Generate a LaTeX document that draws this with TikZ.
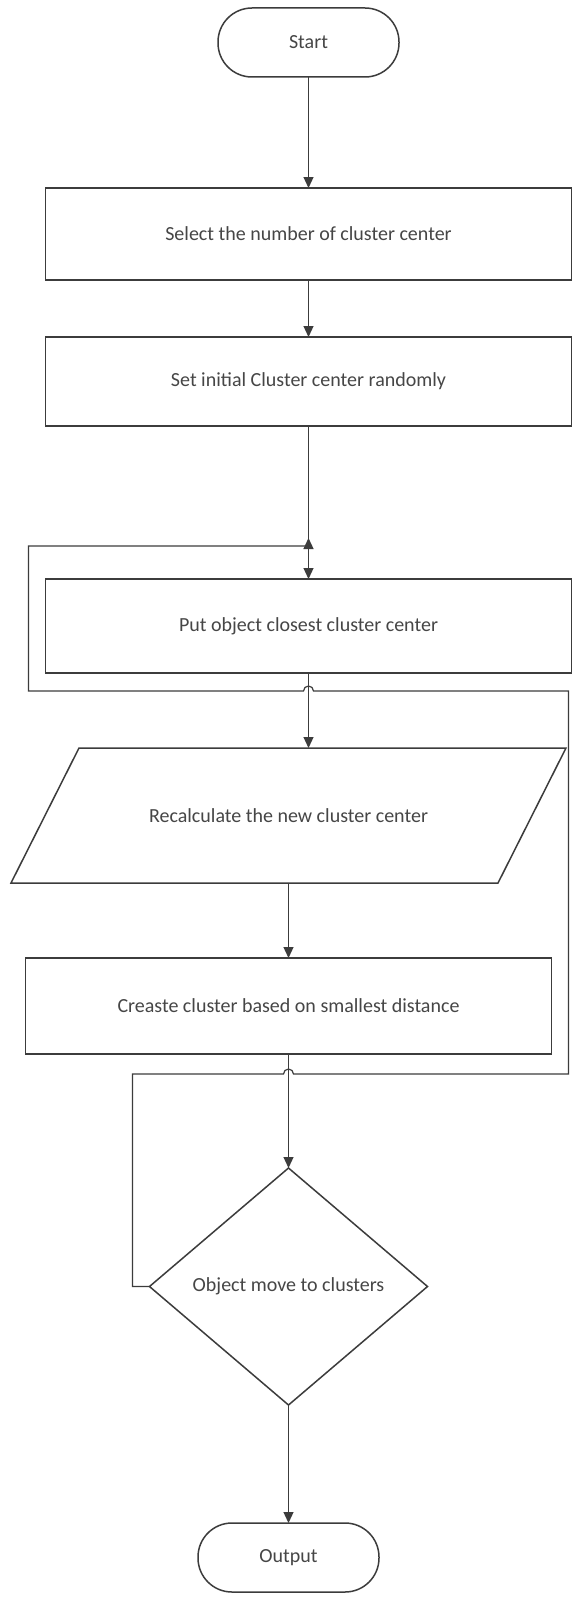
\documentclass[tikz,border=0pt]{standalone}
\usepackage{fontspec}
\setmainfont{Carlito}
\usepackage{tikz}
\usetikzlibrary{positioning, shapes.geometric, arrows.meta, calc}
\definecolor{line}{RGB}{60, 60, 60}
\definecolor{label}{RGB}{70, 70, 70}

\begin{document}
\begin{tikzpicture}[
        x=1pt, y=1pt,
        >={Triangle[length=11pt, width=10pt]},
        box/.style={draw=line, fill=white, line width=1.5pt, outer sep=0pt, text=label, font=\fontsize{20}{24}\selectfont},
        terminal/.style={box, rectangle, minimum width=181pt, minimum height=69pt, rounded corners=34pt},
        process/.style={box, rectangle, minimum width=526pt, minimum height=#1},
        process/.default=92pt,
        io/.style={rectangle, outer sep=0pt, text=label, font=\fontsize{20}{24}\selectfont, minimum width=487pt, minimum height=135pt},
        decision/.style={box, diamond, minimum width=278pt, minimum height=237pt, inner sep=0pt},
        flow/.style={->, line width=1.2pt, draw=line}
    ]
        \useasboundingbox[fill=white] (0,0) rectangle (575,-1600);

        \node (start) [terminal] at (308.5,-42.5) {Start};
        \node (select) [process, below=111pt of start] {Select the number of cluster center};
        \node (init) [process=89pt, below=57pt of select] {Set initial Cluster center randomly};
        \node (assign) [process=94pt, below=153pt of init] {Put object closest cluster center};
        \node (recalc) [io, below=75pt of assign, xshift=-20pt] {Recalculate the new cluster center};
        \draw[line width=1.5pt, draw=line] ($(recalc.south west)+(-34,0)$) -- ($(recalc.south east)+(-34,0)$)
            -- ($(recalc.north east)+(34,0)$) -- ($(recalc.north west)+(34,0)$) -- cycle;
        \node (create) [process=96pt, below=75pt of recalc] {Creaste cluster based on smallest distance};
        \node (moved) [decision, below=114pt of create] {Object move to clusters};
        \node (output) [terminal, below=118pt of moved] {Output};

        \draw[flow] (start) -- (select);
        \draw[flow] (select) -- (init);
        \draw[flow] (init) -- (assign);
        \draw[flow] (assign.south) -- (assign.south |- recalc.north);
        \draw[flow] (recalc) -- (create);
        \draw[flow] (create) -- (moved);
        \draw[flow] (moved) -- (output);

        \draw[flow] (moved.west) -- ++(-17,0)
            |- ($(create.south)+(-5,-20)$) arc[start angle=180, end angle=0, radius=5]
            -| ($(assign.south east)+(-3,-18)$)
            -- ($(assign.south)+(5,-18)$) arc[start angle=0, end angle=180, radius=5]
            -| ($(assign.north west)+(-17,33)$)
            -| ($(assign.north)+(0,41)$);
    \end{tikzpicture}
\end{document}
